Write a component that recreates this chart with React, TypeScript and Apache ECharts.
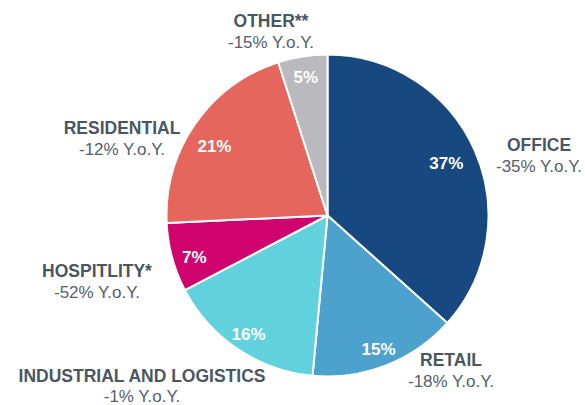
import React, { useEffect, useRef } from "react";
import * as echarts from "echarts";

const sectors = ["OFFICE", "RETAIL", "INDUSTRIAL AND LOGISTICS", "HOSPITLITY*", "RESIDENTIAL", "OTHER**"];
const shares = [37, 15, 16, 7, 21, 5];
const shareLabels = ["37%", "15%", "16%", "7%", "21%", "5%"];
const yoyChange = ["-35%", "-18%", "-1%", "-52%", "-12%", "-15%"];
const colors = ["#17487F", "#4CA2CC", "#62D1DE", "#D0046E", "#E4665C", "#B9B9BE"];

// label anchor positions (layout only)
const labelPos: [number, number][] = [
  [539, 145],
  [451, 360],
  [142, 376],
  [97, 271],
  [122, 128],
  [271, 21],
];
// gap between name line and Y.o.Y. line (layout only)
const lineGap = [21, 21, 20, 21, 21, 21];
// inner label horizontal nudges via padding [top, right, bottom, left] (layout only)
const innerPad: number[][] = [
  [0, 18, 0, 0],
  [0, 0, 0, 0],
  [0, 2, 0, 0],
  [0, 0, 0, 4],
  [0, 0, 0, 4],
  [0, 0, 0, 0],
];
// inner label vertical nudges (px down), achieved with a blank leading line
const innerShiftY = [5, 4, 3, 5, 11, 0];

export default function App() {
  const ref = useRef<HTMLDivElement>(null);
  useEffect(() => {
    if (!ref.current) return;
    const chart = echarts.init(ref.current, undefined, { renderer: "svg" });
    const data = sectors.map((name, i) => ({
      name,
      value: shares[i],
      itemStyle: { color: colors[i] },
    }));
    const textColor = "#4B5662";
    const graphics: any[] = [];
    sectors.forEach((name, i) => {
      const [x, y] = labelPos[i];
      graphics.push({
        type: "text",
        x,
        y,
        style: {
          text: name,
          fill: textColor,
          font: "bold 17.5px 'Liberation Sans', Arial, sans-serif",
          textAlign: "center",
          textVerticalAlign: "middle",
        },
      });
      graphics.push({
        type: "text",
        x,
        y: y + lineGap[i],
        style: {
          text: `${yoyChange[i]} Y.o.Y.`,
          fill: "#55606B",
          font: "17px 'Liberation Sans', Arial, sans-serif",
          textAlign: "center",
          textVerticalAlign: "middle",
        },
      });
    });
    chart.setOption({
      animation: false,
      backgroundColor: "#ffffff",
      graphic: graphics,
      series: [
        {
          type: "pie",
          center: [327.5, 215.5],
          radius: [0, 161],
          startAngle: 90,
          clockwise: true,
          silent: true,
          label: { show: false },
          labelLine: { show: false },
          itemStyle: { borderColor: "#ffffff", borderWidth: 2 },
          data,
        },
        {
          type: "pie",
          center: [327.5, 215.5],
          radius: [113, 161],
          startAngle: 90,
          clockwise: true,
          silent: true,
          itemStyle: { color: "rgba(0,0,0,0)", borderWidth: 0 },
          label: {
            show: true,
            position: "inside",
            color: "#ffffff",
            fontFamily: "'Liberation Sans', Arial, sans-serif",
            fontWeight: "bold",
            fontSize: 17,
          },
          labelLine: { show: false },
          data: sectors.map((name, i) => {
            const shift = innerShiftY[i];
            return {
              name,
              value: shares[i],
              label:
                shift > 0
                  ? {
                      padding: innerPad[i],
                      formatter: "\n" + shareLabels[i],
                      lineHeight: shift * 2,
                    }
                  : { padding: innerPad[i], formatter: shareLabels[i] },
            };
          }),
        },
      ],
    });
    return () => chart.dispose();
  }, []);
  return (
    <div
      ref={ref}
      style={{ position: "fixed", left: 0, top: 0, width: 585, height: 405 }}
    />
  );
}
